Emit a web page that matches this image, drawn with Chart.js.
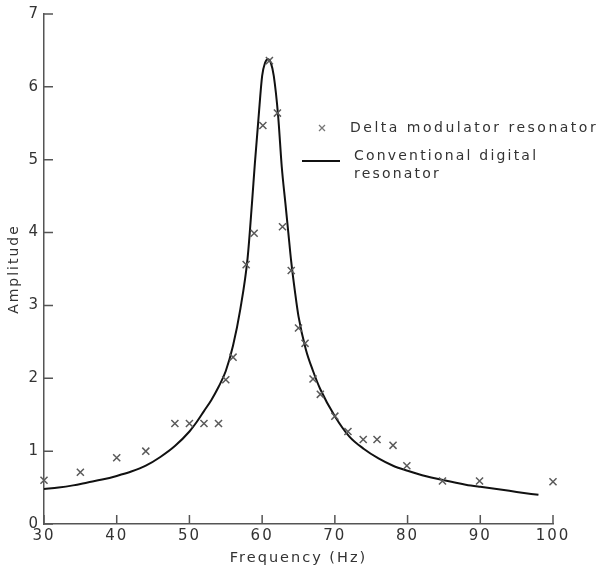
<!DOCTYPE html>
<html><head><meta charset="utf-8">
<script src="https://cdn.jsdelivr.net/npm/chart.js@4/dist/chart.umd.min.js"></script>
<style>html,body{margin:0;padding:0;background:#fff;}canvas{display:block;}</style>
</head><body>
<canvas id="c" width="598" height="569"></canvas>
<script>
// ---- data ----
const xTickLabels = [30, 40, 50, 60, 70, 80, 90, 100];
const yTickLabels = [0, 1, 2, 3, 4, 5, 6, 7];

// Delta modulator resonator (crosses)
const deltaFreq = [30, 35, 40, 44, 48, 50, 52, 54, 55, 56, 57.8, 58.9, 60.1, 61.0, 62.1, 62.8, 64.0, 65.0, 65.9, 67.0, 68.0, 70.0, 71.8, 73.9, 75.8, 78.0, 79.9, 84.8, 89.9, 100];
const deltaAmp  = [0.60, 0.71, 0.91, 1.00, 1.38, 1.38, 1.38, 1.38, 1.98, 2.29, 3.56, 3.99, 5.47, 6.36, 5.64, 4.08, 3.48, 2.69, 2.48, 1.99, 1.78, 1.48, 1.27, 1.16, 1.16, 1.08, 0.80, 0.59, 0.59, 0.58];

// Conventional digital resonator (solid line)
const convFreq = [30, 32, 34, 36, 38, 40, 42, 44, 46, 48, 50, 51, 52, 53, 54, 55, 56, 57, 58, 58.6, 59, 59.5, 60, 60.4, 60.8, 61.2, 61.6, 62.2, 62.7, 63.2, 63.6, 64, 64.5, 65, 66, 67, 68, 70, 72, 74, 76, 78, 80, 82, 85, 88, 90, 93, 95, 98];
const convAmp  = [0.48, 0.50, 0.53, 0.57, 0.61, 0.66, 0.72, 0.80, 0.92, 1.07, 1.27, 1.40, 1.55, 1.70, 1.88, 2.10, 2.45, 2.95, 3.65, 4.40, 4.95, 5.57, 6.15, 6.33, 6.38, 6.33, 6.15, 5.60, 4.90, 4.40, 4.00, 3.60, 3.20, 2.85, 2.40, 2.10, 1.85, 1.48, 1.20, 1.03, 0.90, 0.80, 0.73, 0.67, 0.60, 0.54, 0.51, 0.47, 0.44, 0.40];

const seriesNames = ['Delta modulator resonator', 'Conventional digital', 'resonator'];
const xTitle = 'Frequency (Hz)';
const yTitle = 'Amplitude';

// ---- chart ----
const FONT = '"DejaVu Sans", sans-serif';
const TXT = '#333';
const AX = '#555';

const deltaPts = deltaFreq.map((f, i) => ({ x: f, y: deltaAmp[i] }));
const convPts = convFreq.map((f, i) => ({ x: f, y: convAmp[i] }));

const spacingPlugin = {
  id: 'spacing',
  beforeDraw(chart) { chart.ctx.letterSpacing = '2px'; }
};

const ticksAndLegend = {
  id: 'ticksAndLegend',
  afterDraw(chart) {
    const ctx = chart.ctx;
    const xs = chart.scales.x, ys = chart.scales.y;
    const ca = chart.chartArea;
    ctx.save();
    ctx.strokeStyle = AX;
    ctx.lineWidth = 1.5;
    ctx.beginPath();
    xTickLabels.forEach(v => {
      const px = xs.getPixelForValue(v);
      ctx.moveTo(px, ca.bottom); ctx.lineTo(px, ca.bottom - 9);
    });
    yTickLabels.forEach(v => {
      const py = ys.getPixelForValue(v);
      ctx.moveTo(ca.left, py); ctx.lineTo(ca.left + 9, py);
    });
    ctx.stroke();

    // legend
    ctx.strokeStyle = '#777';
    ctx.lineWidth = 1.3;
    ctx.beginPath();
    ctx.moveTo(319, 125); ctx.lineTo(325, 131);
    ctx.moveTo(325, 125); ctx.lineTo(319, 131);
    ctx.stroke();
    ctx.strokeStyle = '#111';
    ctx.lineWidth = 2;
    ctx.beginPath(); ctx.moveTo(302, 161); ctx.lineTo(340, 161); ctx.stroke();

    ctx.letterSpacing = '2.5px';
    ctx.font = '14px ' + FONT;
    ctx.fillStyle = TXT;
    ctx.textBaseline = 'middle';
    ctx.textAlign = 'left';
    ctx.fillText(seriesNames[0], 350, 128);
    ctx.letterSpacing = '2.2px';
    ctx.fillText(seriesNames[1], 354, 156);
    ctx.fillText(seriesNames[2], 354, 174);
    ctx.restore();
  }
};

new Chart(document.getElementById('c'), {
  type: 'scatter',
  data: {
    datasets: [
      {
        type: 'line',
        label: 'Conventional digital resonator',
        data: convPts,
        borderColor: '#111',
        borderWidth: 2,
        pointRadius: 0,
        fill: false,
        cubicInterpolationMode: 'monotone',
        order: 2
      },
      {
        type: 'scatter',
        label: 'Delta modulator resonator',
        data: deltaPts,
        pointStyle: 'crossRot',
        pointRadius: 5,
        pointBorderWidth: 1.5,
        borderColor: '#5a5a5a',
        backgroundColor: '#5a5a5a',
        clip: false,
        order: 1
      }
    ]
  },
  options: {
    responsive: false,
    animation: false,
    devicePixelRatio: 1,
    layout: { padding: { top: 14, right: 45, left: 0, bottom: 0 } },
    plugins: { legend: { display: false }, tooltip: { enabled: false } },
    scales: {
      x: {
        type: 'linear', min: 30, max: 100,
        afterBuildTicks: s => { s.ticks = xTickLabels.map(v => ({ value: v })); },
        afterFit: s => { s.height = 45; },
        grid: { display: true, drawOnChartArea: false, drawTicks: false },
        border: { display: true, color: AX, width: 1.5 },
        ticks: { color: TXT, font: { family: FONT, size: 15 }, padding: 3, maxRotation: 0, autoSkip: false },
        title: { display: true, text: xTitle, color: TXT, font: { family: FONT, size: 14.5 }, padding: { top: 0, bottom: 2 } }
      },
      y: {
        type: 'linear', min: 0, max: 7,
        afterBuildTicks: s => { s.ticks = yTickLabels.map(v => ({ value: v })); },
        afterFit: s => { s.width = 44; },
        grid: { display: true, drawOnChartArea: false, drawTicks: false },
        border: { display: true, color: AX, width: 1.5 },
        ticks: { color: TXT, font: { family: FONT, size: 15 }, padding: 4, autoSkip: false },
        title: { display: true, text: yTitle, color: TXT, font: { family: FONT, size: 14 }, padding: { top: 6, bottom: 0 } }
      }
    }
  },
  plugins: [spacingPlugin, ticksAndLegend]
});
</script>
</body></html>
